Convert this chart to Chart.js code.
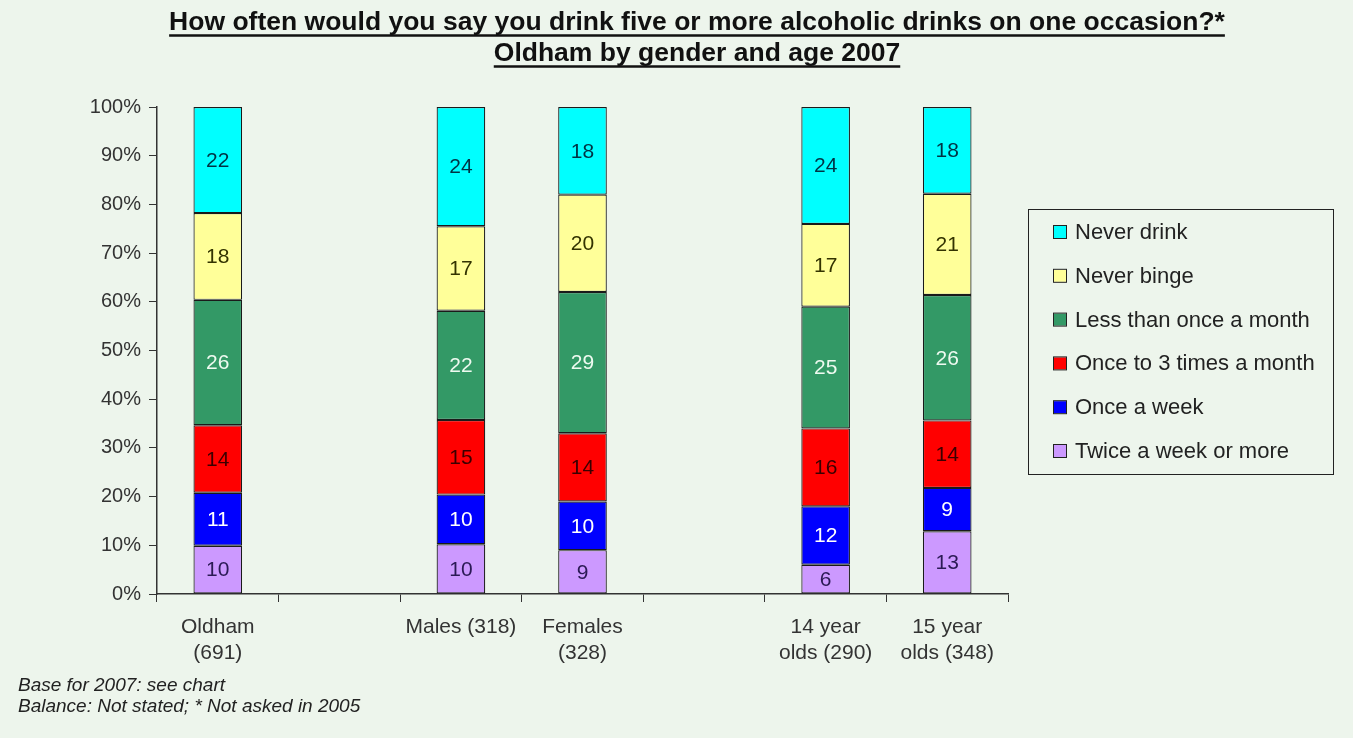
<!DOCTYPE html>
<html>
<head>
<meta charset="utf-8">
<script src="https://cdn.jsdelivr.net/npm/chart.js@4/dist/chart.umd.min.js"></script>
<style>
  html, body { margin: 0; padding: 0; background: #edf5ec; }
  canvas { display: block; }
</style>
</head>
<body>
<canvas id="chart" width="1353" height="738"></canvas>
<script>
// categories (empty slots are the gaps between groups)
const categories = [['Oldham', '(691)'], '', 'Males (318)', ['Females', '(328)'], '', ['14 year', 'olds (290)'], ['15 year', 'olds (348)']]

// percentages shown on the bars, bottom segment first
const twiceWeek  = [10, null, 10, 9,  null, 6,  13]
const onceWeek   = [11, null, 10, 10, null, 12, 9]
const onceTo3    = [14, null, 15, 14, null, 16, 14]
const lessMonth  = [26, null, 22, 29, null, 25, 26]
const neverBinge = [18, null, 17, 20, null, 17, 21]
const neverDrink = [22, null, 24, 18, null, 24, 18]

const yTicks = [0, 10, 20, 30, 40, 50, 60, 70, 80, 90, 100]

const titleLines = ['How often would you say you drink five or more alcoholic drinks on one occasion?*', 'Oldham by gender and age 2007']
const notes = ['Base for 2007: see chart', 'Balance: Not stated; * Not asked in 2005']

const FONT = '"Liberation Sans", Arial, sans-serif'

const series = [
      { label: 'Twice a week or more', data: twiceWeek, color: '#cc99ff', text: '#2b1a55' },
      { label: 'Once a week', data: onceWeek, color: '#0000ff', text: '#ffffff' },
      { label: 'Once to 3 times a month', data: onceTo3, color: '#ff0000', text: '#3a0000' },
      { label: 'Less than once a month', data: lessMonth, color: '#339966', text: '#eefaf0' },
      { label: 'Never binge', data: neverBinge, color: '#ffff99', text: '#333300' },
      { label: 'Never drink', data: neverDrink, color: '#00ffff', text: '#003344' }
]

// 100% stacked: scale each column to its total
const totals = categories.map((c, i) => series.reduce((s, d) => s + (d.data[i] || 0), 0))

const datasets = series.map(s => ({
      label: s.label,
      data: s.data.map((v, i) => v == null ? null : v / totals[i] * 100),
      raw: s.data,
      textColor: s.text,
      backgroundColor: s.color,
      borderColor: '#1a1a1a',
      borderWidth: 1.2,
      borderSkipped: false,
      barPercentage: 0.4,
      categoryPercentage: 1
}))

const bgPlugin = {
      id: 'bg',
      beforeDraw(chart) {
            const ctx = chart.ctx
            ctx.save()
            ctx.fillStyle = '#edf5ec'
            ctx.fillRect(0, 0, chart.width, chart.height)
            ctx.restore()
      }
}

const labelsPlugin = {
      id: 'segLabels',
      afterDatasetsDraw(chart) {
            const ctx = chart.ctx
            ctx.save()
            ctx.font = '21px ' + FONT
            ctx.textAlign = 'center'
            ctx.textBaseline = 'middle'
            chart.data.datasets.forEach((ds, di) => {
                  chart.getDatasetMeta(di).data.forEach((bar, i) => {
                        if (ds.raw[i] == null) return
                        ctx.fillStyle = ds.textColor
                        ctx.fillText(String(ds.raw[i]), bar.x, (bar.y + bar.base) / 2 + 1)
                  })
            })
            ctx.restore()
      }
}

const decorPlugin = {
      id: 'decor',
      afterDraw(chart) {
            const ctx = chart.ctx
            ctx.save()
            // title, bold and underlined
            ctx.fillStyle = '#111'
            ctx.strokeStyle = '#111'
            ctx.font = 'bold 25px ' + FONT
            ctx.textAlign = 'center'
            ctx.textBaseline = 'alphabetic'
            const ys = [30, 61]
            const sx = 1.06
            titleLines.forEach((t, k) => {
                  ctx.save()
                  ctx.translate(697, ys[k])
                  ctx.scale(sx, 1)
                  ctx.fillText(t, 0, 0)
                  ctx.restore()
                  const w = ctx.measureText(t).width * sx
                  ctx.lineWidth = 2.5
                  ctx.beginPath()
                  ctx.moveTo(697 - w / 2, ys[k] + 5.5)
                  ctx.lineTo(697 + w / 2, ys[k] + 5.5)
                  ctx.stroke()
            })

            // footnotes
            ctx.font = 'italic 19px ' + FONT
            ctx.textAlign = 'left'
            ctx.fillStyle = '#222'
            ctx.fillText(notes[0], 18, 691)
            ctx.fillText(notes[1], 18, 712)

            // legend box, top entry first
            const bx = 1028, by = 209, bw = 305, bh = 265
            ctx.strokeStyle = '#222'
            ctx.lineWidth = 1
            ctx.strokeRect(bx + 0.5, by + 0.5, bw, bh)
            ctx.font = '22px ' + FONT
            ctx.textBaseline = 'middle'
            const items = chart.data.datasets.slice().reverse()
            items.forEach((ds, k) => {
                  const cy = 232 + k * 43.8
                  ctx.fillStyle = ds.backgroundColor
                  ctx.fillRect(1054, cy - 6, 12, 12)
                  ctx.strokeStyle = '#222'
                  ctx.strokeRect(1053.5, cy - 6.5, 13, 13)
                  ctx.fillStyle = '#222'
                  ctx.fillText(ds.label, 1075, cy + 1)
            })
            ctx.restore()
      }
}

new Chart(document.getElementById('chart'), {
      type: 'bar',
      data: { labels: categories, datasets: datasets },
      plugins: [bgPlugin, labelsPlugin, decorPlugin],
      options: {
            responsive: false,
            animation: false,
            devicePixelRatio: 1,
            layout: { padding: { top: 107, right: 345, left: 0, bottom: 0 } },
            plugins: { legend: { display: false }, tooltip: { enabled: false } },
            scales: {
                  x: {
                        stacked: true,
                        offset: true,
                        grid: { offset: true, drawOnChartArea: false, drawTicks: true, tickLength: 8, color: '#333' },
                        border: { color: '#333', width: 1.5 },
                        ticks: { font: { family: FONT, size: 21, lineHeight: 1.2 }, color: '#333', padding: 13, maxRotation: 0, autoSkip: false },
                        afterFit(s) { s.height = 144 }
                  },
                  y: {
                        stacked: true,
                        min: 0,
                        max: 100,
                        afterBuildTicks(s) { s.ticks = yTicks.map(v => ({ value: v })) },
                        grid: { drawOnChartArea: false, drawTicks: true, tickLength: 8, color: '#333' },
                        border: { color: '#333', width: 1.5 },
                        ticks: { font: { family: FONT, size: 20 }, color: '#333', padding: 8, callback: v => v + '%' },
                        afterFit(s) { s.width = 157 }
                  }
            }
      }
})
</script>
</body>
</html>
